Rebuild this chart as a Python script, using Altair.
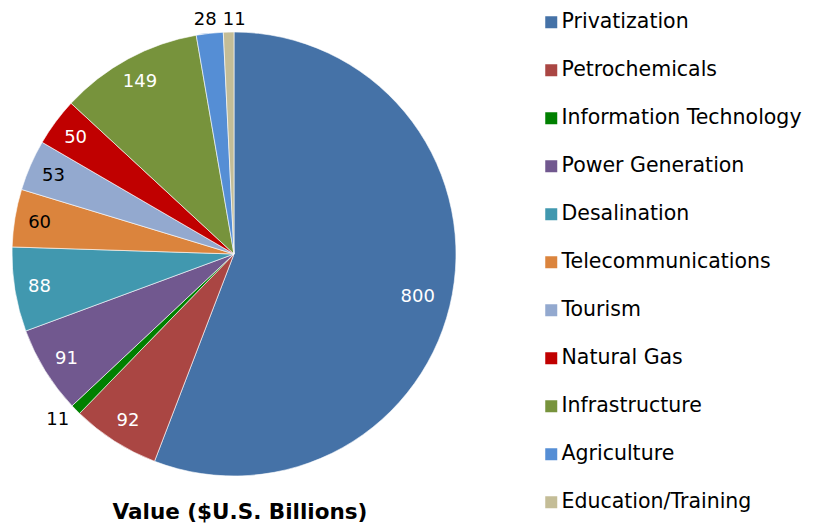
import altair as alt
import pandas as pd

categories = ["Privatization", "Petrochemicals", "Information Technology", "Power Generation",
              "Desalination", "Telecommunications", "Tourism", "Natural Gas",
              "Infrastructure", "Agriculture", "Education/Training"]
values = [800, 92, 11, 91, 88, 60, 53, 50, 149, 28, 11]
colors = ["#4572A7", "#AA4643", "#008000", "#71588F", "#4198AF", "#DB843D",
          "#93A9CF", "#C00000", "#77933C", "#558ED5", "#C4BD97"]
title_text = "Value ($U.S. Billions)"

df = pd.DataFrame({"category": categories, "value": values, "idx": list(range(len(categories)))})

FONT = "DejaVu Sans"
CX, CY = 226, 246

base = alt.Chart(df).encode(
    theta=alt.Theta("value:Q", stack=True),
    order=alt.Order("idx:Q"),
    x=alt.value(CX),
    y=alt.value(CY),
)

arcs = base.mark_arc(radius=222, stroke="#ffffff", strokeWidth=0.6).encode(
    color=alt.Color("category:N", sort=categories,
                    scale=alt.Scale(domain=categories, range=colors),
                    legend=alt.Legend(title=None, orient="none", legendX=533, legendY=4,
                                      symbolType="square", symbolSize=144,
                                      symbolStrokeWidth=0,
                                      labelFont=FONT, labelFontSize=20.5, labelColor="#000000",
                                      labelOffset=0, rowPadding=27, padding=0,
                                      labelLimit=400)),
)

inside = base.transform_calculate(
    lab="datum.value >= 30 && datum.category != 'Privatization' ? '' + datum.value : ''"
).mark_text(radius=197, font=FONT, fontSize=18, align="center", baseline="middle", dy=1).encode(
    text="lab:N",
    color=alt.condition("datum.category == 'Telecommunications' || datum.category == 'Tourism'",
                        alt.value("#000000"), alt.value("#ffffff")),
)

big = base.transform_calculate(
    lab="datum.category == 'Privatization' ? '' + datum.value : ''"
).mark_text(radius=194, font=FONT, fontSize=18, align="center", baseline="middle",
            color="#ffffff", dx=-7, dy=8).encode(text="lab:N")


def outside_label(cat, dx, dy):
    return base.transform_calculate(
        lab=f"datum.category == '{cat}' ? '' + datum.value : ''"
    ).mark_text(radius=236, font=FONT, fontSize=18, align="center", baseline="middle",
                color="#000000", dx=dx, dy=dy).encode(text="lab:N")


out_it = outside_label("Information Technology", -8, 1)
out_ag = outside_label("Agriculture", -3, 1)
out_ed = outside_label("Education/Training", 6, 2)

title = alt.Chart(pd.DataFrame({"t": [title_text]})).mark_text(
    font=FONT, fontSize=21.5, fontWeight="bold", align="center", baseline="alphabetic",
    color="#000000"
).encode(text="t:N", x=alt.value(232), y=alt.value(511))

chart = alt.layer(arcs, inside, big, out_it, out_ag, out_ed, title).properties(
    width=801, height=517, padding=0,
    autosize=alt.AutoSizeParams(type="none")
).configure_view(stroke=None)

chart.save("out.html", embed_options={"renderer": "svg", "actions": False})
